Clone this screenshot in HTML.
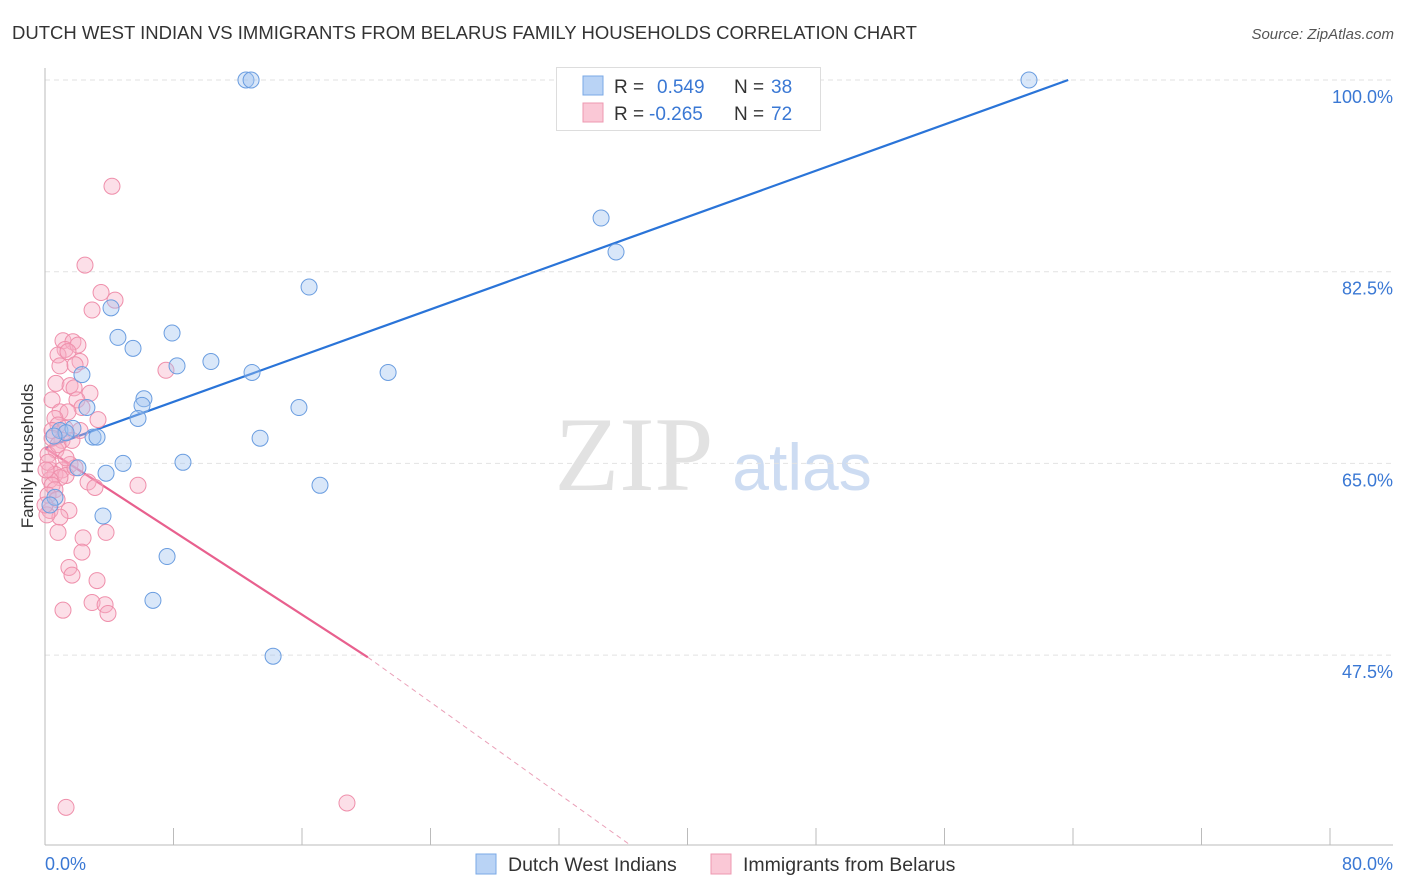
<!DOCTYPE html>
<html><head><meta charset="utf-8"><style>
body{margin:0;background:#fff;font-family:"Liberation Sans",sans-serif;}
svg{display:block}
</style></head><body>
<svg id="chart" width="1406" height="892">
<text x="12" y="39" font-size="18.5" fill="#333">DUTCH WEST INDIAN VS IMMIGRANTS FROM BELARUS FAMILY HOUSEHOLDS CORRELATION CHART</text>
<text x="1394" y="39" font-size="15" fill="#555" font-style="italic" text-anchor="end">Source: ZipAtlas.com</text>
<g>
<text x="634" y="490" font-size="106" font-family="Liberation Serif,serif" fill="#e2e2e2" text-anchor="middle">ZIP</text>
<text x="802" y="490" font-size="66" fill="#cddcf2" text-anchor="middle">atlas</text>
</g>
<g id="grid"></g>
<g id="axes"></g>
<g id="lines"></g>
<g id="pts"></g>
<text x="33" y="456" font-size="17" fill="#333" text-anchor="middle" transform="rotate(-90 33 456)">Family Households</text>
<g>
<rect x="556.5" y="67.5" width="264" height="63" fill="#fff" stroke="#ddd"/>
<rect x="583" y="76" width="20" height="19" fill="#b9d3f5" stroke="#7aa8e6"/>
<rect x="583" y="103" width="20" height="19" fill="#fac8d6" stroke="#ee98b0"/>
<text x="614" y="93" font-size="19" fill="#333">R =</text>
<text x="657" y="93" font-size="19" fill="#3a78d4">0.549</text>
<text x="734" y="93" font-size="19" fill="#333">N =</text>
<text x="771" y="93" font-size="19" fill="#3a78d4">38</text>
<text x="614" y="120" font-size="19" fill="#333">R =</text>
<text x="649" y="120" font-size="19" fill="#3a78d4">-0.265</text>
<text x="734" y="120" font-size="19" fill="#333">N =</text>
<text x="771" y="120" font-size="19" fill="#3a78d4">72</text>
</g>
<g>
<rect x="476" y="854" width="20" height="20" fill="#b9d3f5" stroke="#7aa8e6"/>
<text x="508" y="871" font-size="19.5" fill="#333">Dutch West Indians</text>
<rect x="711" y="854" width="20" height="20" fill="#fac8d6" stroke="#ee98b0"/>
<text x="743" y="871" font-size="19.5" fill="#333">Immigrants from Belarus</text>
</g>
</svg>
<script>
const xTicks=[0,8,16,24,32,40,48,56,64,72,80];
const xLabels=["0.0%","80.0%"];
const yTicks=[100,82.5,65,47.5];
const yLabels=["100.0%","82.5%","65.0%","47.5%"];
const blueX=[12.51,12.83,61.26,34.62,35.55,16.44,4.11,4.54,7.91,5.48,8.22,10.33,12.89,21.36,2.30,6.16,6.04,5.79,2.61,15.81,0.93,1.74,1.31,0.56,2.99,3.24,13.39,4.86,8.59,2.05,3.80,17.12,3.61,7.60,6.72,14.20,0.62,0.31];
const blueY=[100,100,100,87.4,84.3,81.1,79.2,76.5,76.9,75.5,73.9,74.3,73.3,73.3,73.1,70.9,70.3,69.1,70.1,70.1,68.0,68.2,67.8,67.5,67.4,67.4,67.3,65.0,65.1,64.6,64.1,63.0,60.2,56.5,52.5,47.4,61.9,61.2];
const pinkX=[4.17,2.49,3.49,4.36,2.93,1.12,1.74,1.25,2.05,0.81,1.43,2.18,0.93,1.87,7.53,0.68,1.56,1.81,2.80,1.99,0.44,2.30,0.93,1.43,0.62,3.30,0.81,1.25,0.44,1.06,0.68,0.19,1.56,1.06,0.31,0.62,1.31,1.87,2.68,3.11,5.79,0.93,0.31,0.44,0.62,0.19,0.75,0.31,1.49,0.93,0.12,3.80,2.37,2.30,1.49,1.68,3.24,2.93,3.74,3.92,1.12,1.31,18.80,0.19,0.44,0.81,1.31,1.68,2.18,0.00,0.81,0.06];
const pinkY=[90.3,83.1,80.6,79.9,79.0,76.2,76.1,75.4,75.8,74.9,75.2,74.3,73.9,74.0,73.5,72.3,72.1,71.9,71.4,70.8,70.8,70.1,69.7,69.7,69.1,69.0,68.5,68.2,68.0,67.1,66.2,65.8,64.9,64.4,64.4,64.0,63.9,64.6,63.3,62.8,63.0,63.7,63.5,63.0,62.6,62.1,61.7,60.7,60.7,60.1,60.3,58.7,58.2,56.9,55.5,54.8,54.3,52.3,52.1,51.3,51.6,33.6,34.0,65.1,67.3,66.7,65.5,67.1,68.0,61.2,58.7,64.4];
const blueLine=[0,66.4,63.7,100];
const pinkLine=[0,66.4,20.1,47.3,36.4,30.2];

const NS="http://www.w3.org/2000/svg";
const sx=v=>45+v/80*1285;
const sy=v=>80+(100-v)/17.5*191.7;
function mk(parent,tag,attrs){const e=document.createElementNS(NS,tag);for(const k in attrs)e.setAttribute(k,attrs[k]);document.getElementById(parent).appendChild(e);return e;}
yTicks.forEach((t,i)=>{
  const g=mk('grid','line',{x1:45,x2:1393,y1:sy(t),y2:sy(t),stroke:'#e2e2e2','stroke-dasharray':'5,4'});
  
  
  const l=mk('axes','text',{x:1393,y:sy(t)+23,'font-size':18,fill:'#3a78d4','text-anchor':'end'});
  l.textContent=yLabels[i];
  
  
});
let a=mk('axes','line',{x1:45,x2:45,y1:68,y2:845,stroke:'#bbb'});


a=mk('axes','line',{x1:45,x2:1393,y1:845,y2:845,stroke:'#bbb'});


xTicks.forEach(t=>{
  const e=mk('axes','line',{x1:sx(t),x2:sx(t),y1:828,y2:845,stroke:'#bbb'});
  
  
});
let xl=mk('axes','text',{x:45,y:870,'font-size':18,fill:'#3a78d4'});xl.textContent=xLabels[0];


xl=mk('axes','text',{x:1393,y:870,'font-size':18,fill:'#3a78d4','text-anchor':'end'});xl.textContent=xLabels[1];



pinkX.forEach((v,i)=>{
  const c=mk('pts','circle',{cx:sx(v),cy:sy(pinkY[i]),r:8,fill:'rgba(248,175,198,0.4)',stroke:'#ef8fab','stroke-width':1});
  
  
});
blueX.forEach((v,i)=>{
  const c=mk('pts','circle',{cx:sx(v),cy:sy(blueY[i]),r:8,fill:'rgba(160,196,240,0.4)',stroke:'#6a9de0','stroke-width':1});
  
  
});
let ln=mk('lines','line',{x1:sx(blueLine[0]),y1:sy(blueLine[1]),x2:sx(blueLine[2]),y2:sy(blueLine[3]),stroke:'#2a74d8','stroke-width':2.2});


ln=mk('lines','line',{x1:sx(pinkLine[0]),y1:sy(pinkLine[1]),x2:sx(pinkLine[2]),y2:sy(pinkLine[3]),stroke:'#e8608e','stroke-width':2.2});


ln=mk('lines','line',{x1:sx(pinkLine[2]),y1:sy(pinkLine[3]),x2:sx(pinkLine[4]),y2:sy(pinkLine[5]),stroke:'#eaa0b8','stroke-width':1,'stroke-dasharray':'5,4'});


</script>
</body></html>
